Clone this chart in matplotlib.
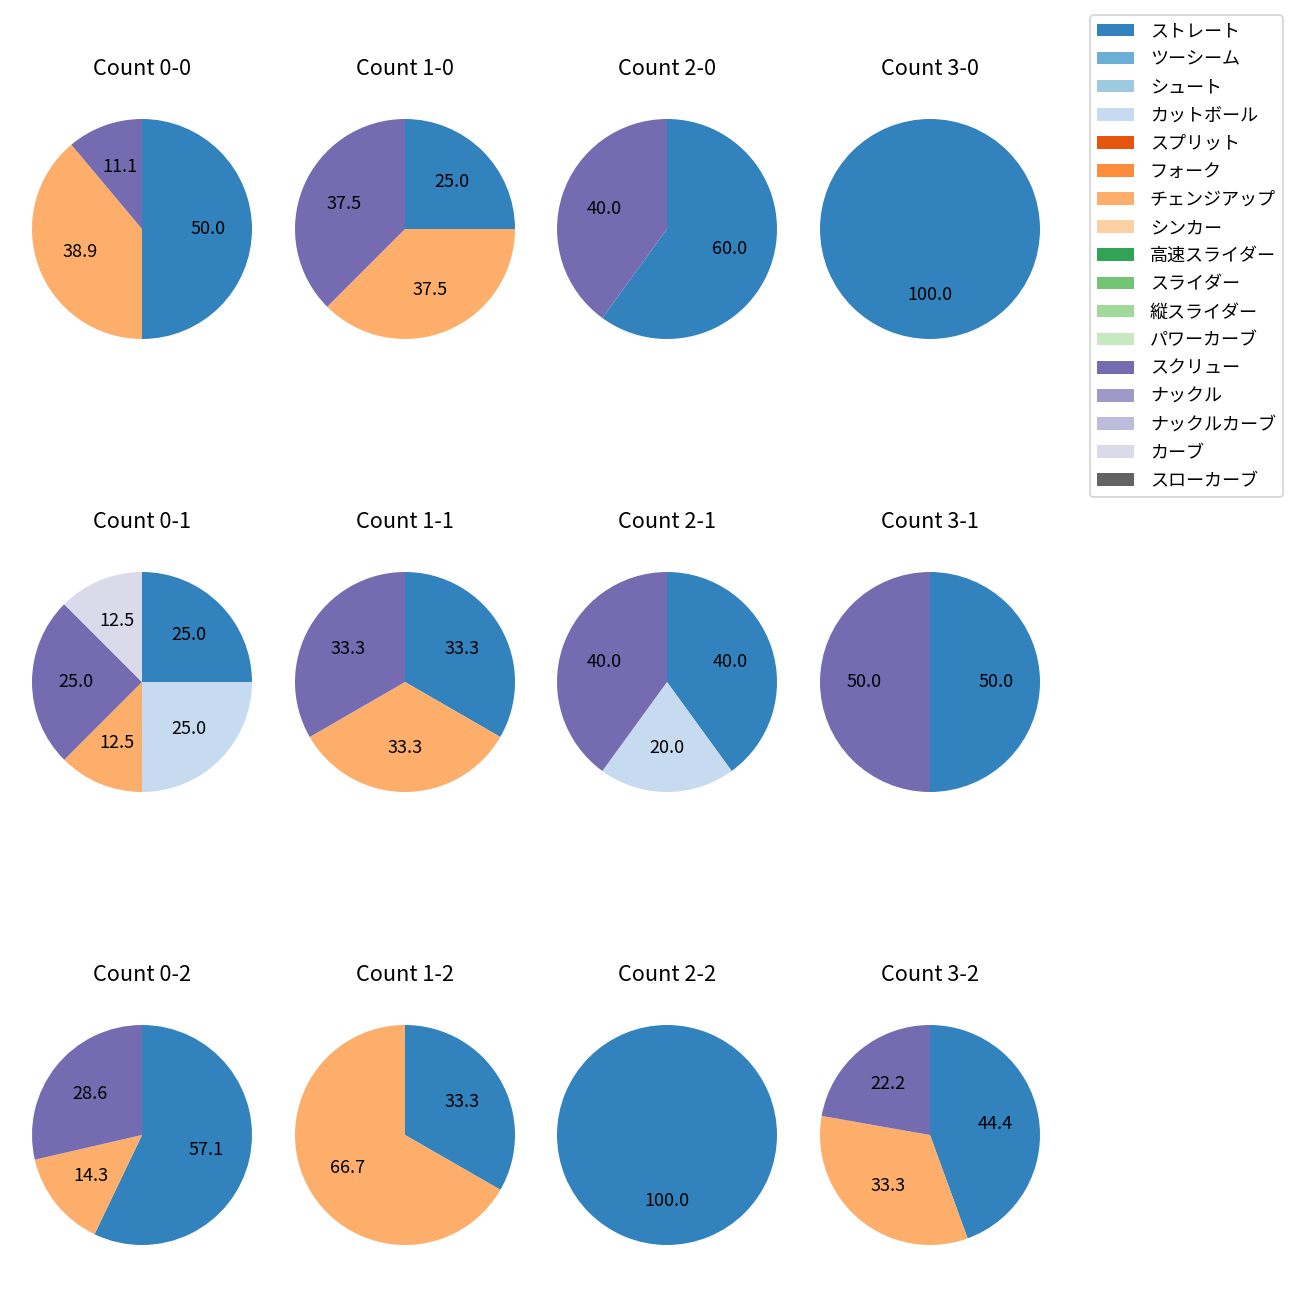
import matplotlib
matplotlib.use("Agg")
import matplotlib.pyplot as plt
from matplotlib.patches import Patch

plt.rcParams['font.family'] = ['Noto Sans CJK JP', 'DejaVu Sans']

# 球種（凡例の順）
pitch_names = ['ストレート', 'ツーシーム', 'シュート', 'カットボール', 'スプリット', 'フォーク',
               'チェンジアップ', 'シンカー', '高速スライダー', 'スライダー', '縦スライダー',
               'パワーカーブ', 'スクリュー', 'ナックル', 'ナックルカーブ', 'カーブ', 'スローカーブ']

# カウント（ボール-ストライク）
count_labels = ['0-0', '1-0', '2-0', '3-0',
                '0-1', '1-1', '2-1', '3-1',
                '0-2', '1-2', '2-2', '3-2']

# 各カウントでの割合（%）
straight = [50.0, 25.0, 60.0, 100.0, 25.0, 33.3, 40.0, 50.0, 57.1, 33.3, 100.0, 44.4]
cutter = [0, 0, 0, 0, 25.0, 0, 20.0, 0, 0, 0, 0, 0]
changeup = [38.9, 37.5, 0, 0, 12.5, 33.3, 0, 0, 14.3, 66.7, 0, 33.3]
screw = [11.1, 37.5, 40.0, 0, 25.0, 33.3, 40.0, 50.0, 28.6, 0, 0, 22.2]
curve = [0, 0, 0, 0, 12.5, 0, 0, 0, 0, 0, 0, 0]

series = {'ストレート': straight, 'カットボール': cutter, 'チェンジアップ': changeup,
          'スクリュー': screw, 'カーブ': curve}

cmap = plt.get_cmap('tab20c')
colors = {name: cmap(i) for i, name in enumerate(pitch_names)}

# 10x10 インチ, dpi 130 -> 1300x1300 px
fig = plt.figure(figsize=(10, 10), dpi=130)
W = H = 1300.0
col_x = [142, 405, 667, 930]
row_y = [229, 682, 1135]
size = 275.0

for k, cnt in enumerate(count_labels):
    r, c = divmod(k, 4)
    cx, cy = col_x[c], row_y[r]
    ax = fig.add_axes([(cx - size / 2) / W, 1 - (cy + size / 2) / H, size / W, size / H])
    vals, cols = [], []
    for name in pitch_names:
        if name in series and series[name][k] > 0:
            vals.append(series[name][k])
            cols.append(colors[name])
    ax.pie(vals, colors=cols, startangle=90, counterclock=False,
           autopct='%1.1f', textprops={'fontsize': 10})
    ax.set_title(f'Count {cnt}', fontsize=12, pad=9)

handles = [Patch(facecolor=colors[n], label=n) for n in pitch_names]
fig.legend(handles=handles, loc='upper right', bbox_to_anchor=(1283 / W, 1 - 15 / H),
           borderaxespad=0, fontsize=10, labelspacing=0.56, handletextpad=0.9,
           frameon=True)

fig.savefig('out.png', dpi=130)
